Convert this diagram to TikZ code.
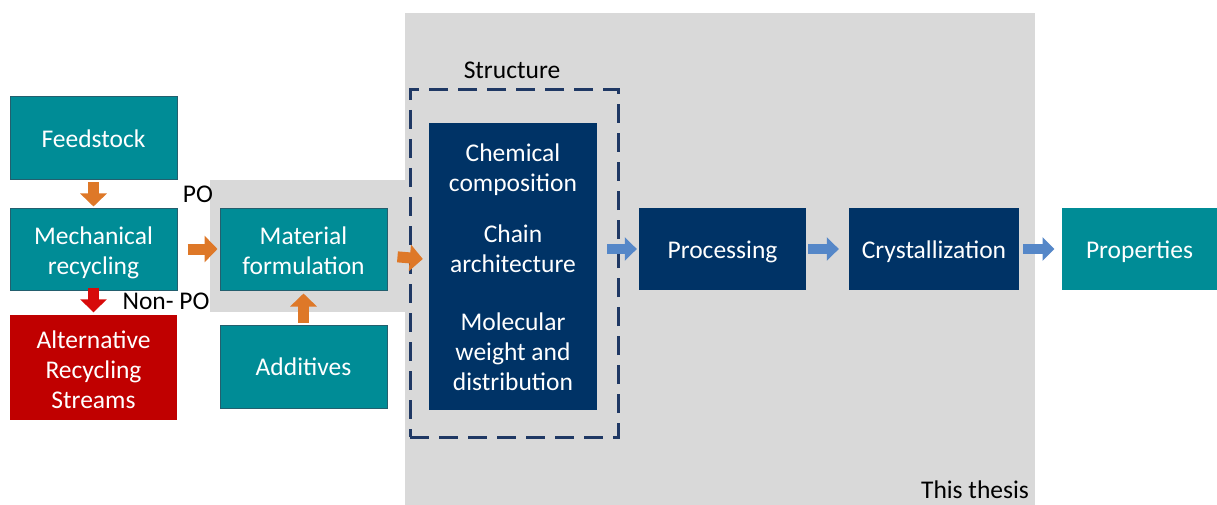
\documentclass[tikz,border=0pt]{standalone}
\usepackage{fontspec}
\setmainfont{Carlito}
\usetikzlibrary{positioning,arrows.meta}

\definecolor{tealfill}{RGB}{0,140,150}
\definecolor{tealedge}{RGB}{35,95,110}
\definecolor{navyfill}{RGB}{0,51,102}
\definecolor{navyedge}{RGB}{31,56,100}
\definecolor{redfill}{RGB}{192,0,0}
\definecolor{thesisgray}{RGB}{217,217,217}
\definecolor{arroworange}{RGB}{222,120,40}
\definecolor{arrowred}{RGB}{215,10,10}
\definecolor{arrowblue}{RGB}{85,135,200}

\tikzset{
  box/.style={text=white, align=center, inner sep=0pt, minimum width=167, minimum height=82,
    text height=24pt, text depth=6pt},
  twolines/.style={text height=56pt},
  threelines/.style={text height=88pt},
  tealbox/.style={box, fill=tealfill, draw=tealedge, line width=1pt},
  navybox/.style={box, fill=navyfill},
  orangearrow/.style={-{Triangle[length=13pt,width=26pt]}, line width=11pt, draw=arroworange},
  redarrow/.style={orangearrow, draw=arrowred},
  bluearrow/.style={-{Triangle[length=12pt,width=23pt]}, line width=10pt, draw=arrowblue},
  label/.style={text=black, inner sep=0pt, text height=22pt, text depth=6pt}
}

\begin{document}
\begin{tikzpicture}[x=1pt, y=-1pt, font=\fontsize{25.5}{30}\selectfont]
\useasboundingbox (0,0) rectangle (1217,505);

% grey backgrounds
\fill[thesisgray] (405,13) rectangle (1035,505);
\fill[thesisgray] (210,180) rectangle (405,312);

\def\ya{138.5}
\def\yb{249}
\def\yc{367}

% left column
\node[tealbox, minimum height=83] (feed) at (93.5, \ya) {Feedstock};
\node[tealbox, twolines] (mech) at (93.5, \yb) {Mechanical\\recycling};
\node[box, threelines, fill=redfill, minimum height=105] (alt) at (93.5, \yc) {Alternative\\Recycling\\Streams};

% formulation
\node[tealbox, twolines] (mat) at (303.5, \yb) {Material\\formulation};
\node[tealbox, minimum height=83] (add) at (303.5, 366.5) {Additives};

% structure
\node[draw=navyedge, line width=3pt, dash pattern=on 19pt off 10pt,
      minimum width=208, minimum height=347, inner sep=0pt] (struct) at (514, 263.5) {};
\node[label] (structlabel) at (512, 71) {Structure};
\node[navybox, text height=253pt, minimum width=168, minimum height=287] (chem) at (513, 266.5)
  {Chemical\\composition\\[21pt]Chain\\architecture\\[28pt]Molecular\\weight and\\distribution};

% process chain
\node[navybox] (proc) at (722.5, \yb) {Processing};
\node[navybox, minimum width=170] (cryst) at (934, \yb) {Crystallization};
\node[tealbox, draw=none, minimum width=155] (prop) at (1139.5, \yb) {Properties};

\node[label] (po) at (198, 194) {PO};
\node[label] (nonpo) at (166, 301) {Non- PO};
\node[label] (thesis) at (975, 490) {This thesis};

% arrows
\draw[orangearrow, shorten <=2pt, shorten >=1pt] (feed) -- (mech);
\draw[redarrow, shorten <=-3pt, shorten >=2pt] (mech) -- (alt);
\draw[orangearrow, shorten <=10pt, shorten >=2pt] (mech) -- (mat);
\draw[orangearrow, shorten <=2pt, shorten >=3pt] (add) -- (mat);
\draw[orangearrow, shorten <=10pt, shorten >=6pt] (mat) -- (chem);
\draw[bluearrow, shorten <=10pt, shorten >=2pt] (chem.east |- proc) -- (proc);
\draw[bluearrow, shorten <=2pt, shorten >=10pt] (proc) -- (cryst);
\draw[bluearrow, shorten <=4pt, shorten >=7pt] (cryst) -- (prop);
\end{tikzpicture}
\end{document}
